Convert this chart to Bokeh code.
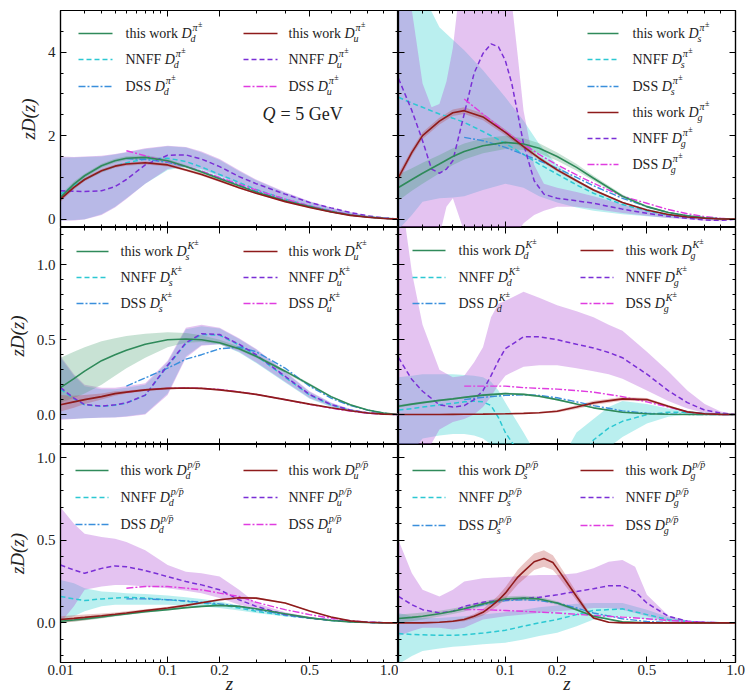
import numpy as np
from bokeh.plotting import figure
from bokeh.layouts import column, row
from bokeh.models import Range1d, FixedTicker, LinearAxis, Label, Arrow, NumeralTickFormatter
from bokeh.embed import file_html
from bokeh.resources import INLINE

SERIF = "Liberation Serif"

# ---------------------------------------------------------------- z nodes
z_grid = [0.01, 0.015, 0.02, 0.03, 0.04, 0.05, 0.07, 0.1, 0.13, 0.16,
          0.2, 0.25, 0.3, 0.4, 0.5, 0.6, 0.7, 0.8, 0.9, 1.0]
z_dss = [0.05, 0.07, 0.1, 0.13, 0.16, 0.2, 0.25, 0.3, 0.4, 0.5, 0.6, 0.7, 0.8, 0.9, 1.0]

# ---------------------------------------------------------------- pi+- : d, u
pi_tw_d = [0.52, 0.84, 1.04, 1.28, 1.40, 1.46, 1.48, 1.40, 1.26, 1.13, 0.97, 0.80, 0.65, 0.44, 0.30, 0.18, 0.10, 0.05, 0.02, 0.0]
pi_tw_d_lo = [0.45, 0.78, 0.99, 1.23, 1.35, 1.41, 1.43, 1.35, 1.22, 1.09, 0.94, 0.77, 0.63, 0.43, 0.29, 0.17, 0.095, 0.045, 0.015, 0.0]
pi_tw_d_hi = [0.59, 0.90, 1.09, 1.33, 1.45, 1.51, 1.53, 1.45, 1.30, 1.17, 1.00, 0.83, 0.67, 0.45, 0.31, 0.19, 0.105, 0.055, 0.025, 0.0]
pi_tw_u = [0.48, 0.76, 0.95, 1.16, 1.27, 1.32, 1.35, 1.30, 1.18, 1.07, 0.92, 0.75, 0.62, 0.42, 0.28, 0.17, 0.09, 0.045, 0.015, 0.0]
pi_tw_u_lo = [0.42, 0.71, 0.91, 1.12, 1.23, 1.28, 1.31, 1.26, 1.15, 1.04, 0.89, 0.73, 0.60, 0.41, 0.27, 0.16, 0.085, 0.04, 0.012, 0.0]
pi_tw_u_hi = [0.54, 0.81, 0.99, 1.20, 1.31, 1.36, 1.39, 1.34, 1.21, 1.10, 0.95, 0.77, 0.64, 0.43, 0.29, 0.18, 0.095, 0.05, 0.018, 0.0]
pi_nn_d = [0.60, 0.80, 0.95, 1.15, 1.27, 1.35, 1.44, 1.46, 1.38, 1.25, 1.07, 0.88, 0.71, 0.48, 0.32, 0.20, 0.11, 0.05, 0.02, 0.0]
pi_nn_d_lo = [-0.03, -0.02, 0.0, 0.12, 0.30, 0.50, 0.85, 1.18, 1.25, 1.18, 1.02, 0.84, 0.68, 0.46, 0.30, 0.19, 0.10, 0.045, 0.015, 0.0]
pi_nn_d_hi = [1.48, 1.48, 1.49, 1.50, 1.55, 1.60, 1.68, 1.75, 1.72, 1.60, 1.42, 1.15, 0.93, 0.63, 0.42, 0.27, 0.16, 0.08, 0.03, 0.0]
pi_nn_u = [0.68, 0.67, 0.66, 0.68, 0.78, 0.95, 1.30, 1.53, 1.54, 1.44, 1.26, 1.02, 0.85, 0.60, 0.40, 0.27, 0.16, 0.08, 0.03, 0.0]
pi_nn_u_lo = [-0.04, -0.03, -0.01, 0.10, 0.28, 0.48, 0.85, 1.20, 1.28, 1.20, 1.04, 0.85, 0.69, 0.47, 0.31, 0.20, 0.11, 0.05, 0.02, 0.0]
pi_nn_u_hi = [1.50, 1.49, 1.50, 1.52, 1.56, 1.61, 1.70, 1.76, 1.73, 1.62, 1.44, 1.17, 0.95, 0.65, 0.43, 0.28, 0.17, 0.085, 0.03, 0.0]
pi_dss_d = [1.45, 1.43, 1.36, 1.26, 1.14, 0.99, 0.82, 0.67, 0.45, 0.30, 0.18, 0.10, 0.05, 0.02, 0.0]
pi_dss_u = [1.64, 1.52, 1.38, 1.26, 1.15, 1.00, 0.84, 0.70, 0.48, 0.32, 0.20, 0.11, 0.05, 0.02, 0.0]

# ---------------------------------------------------------------- pi+- : s, g
pi_tw_s = [0.76, 0.95, 1.10, 1.32, 1.50, 1.62, 1.76, 1.84, 1.80, 1.70, 1.50, 1.24, 0.98, 0.55, 0.30, 0.16, 0.08, 0.035, 0.01, 0.0]
pi_tw_s_lo = [0.45, 0.68, 0.85, 1.10, 1.30, 1.43, 1.58, 1.68, 1.66, 1.58, 1.40, 1.16, 0.92, 0.51, 0.27, 0.14, 0.07, 0.03, 0.008, 0.0]
pi_tw_s_hi = [1.07, 1.22, 1.35, 1.54, 1.70, 1.81, 1.94, 2.00, 1.94, 1.82, 1.60, 1.32, 1.04, 0.59, 0.33, 0.18, 0.09, 0.04, 0.012, 0.0]
pi_tw_g = [1.0, 1.6, 2.0, 2.35, 2.55, 2.6, 2.45, 2.08, 1.74, 1.46, 1.18, 0.92, 0.70, 0.40, 0.22, 0.11, 0.05, 0.02, 0.005, 0.0]
pi_tw_g_lo = [0.9, 1.52, 1.92, 2.27, 2.47, 2.52, 2.37, 2.01, 1.68, 1.41, 1.14, 0.89, 0.67, 0.38, 0.21, 0.10, 0.045, 0.017, 0.004, 0.0]
pi_tw_g_hi = [1.1, 1.68, 2.08, 2.43, 2.63, 2.68, 2.53, 2.15, 1.80, 1.51, 1.22, 0.95, 0.73, 0.42, 0.23, 0.12, 0.055, 0.023, 0.006, 0.0]
pi_nn_s = [2.92, 2.78, 2.68, 2.52, 2.42, 2.32, 2.10, 1.82, 1.55, 1.32, 1.08, 0.82, 0.62, 0.35, 0.20, 0.10, 0.05, 0.02, 0.005, 0.0]
pi_nn_s_lo = [-0.25, 0.10, 0.42, 0.50, 0.52, 0.55, 0.70, 0.85, 0.75, 0.55, 0.40, 0.28, 0.20, 0.12, 0.07, 0.03, 0.015, 0.005, 0.0, 0.0]
pi_nn_s_hi = [6.5, 6.0, 5.4, 4.6, 4.3, 4.05, 3.57, 2.92, 2.36, 1.80, 1.30, 0.95, 0.72, 0.42, 0.25, 0.13, 0.07, 0.03, 0.01, 0.0]
z_pi_nn_g = [0.01, 0.015, 0.02, 0.025, 0.03, 0.035, 0.04, 0.05, 0.06, 0.07, 0.08, 0.09, 0.1, 0.11,
             0.12, 0.13, 0.15, 0.17, 0.2, 0.25, 0.3, 0.4, 0.5, 0.6, 0.7, 0.8, 0.9, 1.0]
pi_nn_g = [3.37, 2.6, 1.88, 1.2, 1.1, 1.2, 1.4, 2.52, 3.5, 3.97, 4.2, 4.13, 3.8, 3.25,
           2.52, 1.8, 0.92, 0.6, 0.5, 0.44, 0.38, 0.24, 0.14, 0.07, 0.02, -0.02, -0.03, 0.0]
pi_nn_g_lo = [-0.3, -0.5, -0.6, -0.5, -0.4, 0.3, 0.5, -0.3, -0.5, -0.5, -0.5, -0.5, -0.5, -0.5,
              -0.3, -0.1, 0.1, 0.2, 0.3, 0.3, 0.25, 0.15, 0.08, 0.03, 0.0, -0.04, -0.05, 0.0]
pi_nn_g_hi = [8.0, 5.0, 3.25, 2.68, 2.76, 3.3, 4.1, 6.5, 8.0, 9.0, 9.0, 9.0, 8.0, 5.2,
              3.9, 2.6, 1.3, 0.85, 0.75, 0.65, 0.55, 0.35, 0.2, 0.1, 0.04, 0.01, 0.0, 0.0]
pi_dss_s = [1.96, 1.88, 1.72, 1.55, 1.40, 1.22, 1.00, 0.80, 0.50, 0.30, 0.16, 0.08, 0.03, 0.01, 0.0]
pi_dss_g = [2.88, 2.52, 2.10, 1.80, 1.55, 1.30, 1.06, 0.86, 0.55, 0.38, 0.23, 0.13, 0.06, 0.02, 0.0]

# ---------------------------------------------------------------- K+- : s, u
K_tw_s = [0.18, 0.24, 0.29, 0.36, 0.40, 0.43, 0.47, 0.50, 0.505, 0.50, 0.48, 0.44, 0.39, 0.29, 0.20, 0.12, 0.065, 0.03, 0.01, 0.0]
K_tw_s_lo = [0.08, 0.11, 0.14, 0.20, 0.26, 0.31, 0.38, 0.45, 0.48, 0.485, 0.47, 0.43, 0.38, 0.28, 0.19, 0.115, 0.06, 0.027, 0.008, 0.0]
K_tw_s_hi = [0.38, 0.42, 0.45, 0.49, 0.51, 0.525, 0.54, 0.55, 0.545, 0.53, 0.50, 0.455, 0.40, 0.30, 0.21, 0.125, 0.07, 0.033, 0.012, 0.0]
K_tw_u = [0.065, 0.085, 0.10, 0.12, 0.14, 0.15, 0.165, 0.175, 0.178, 0.175, 0.165, 0.15, 0.135, 0.10, 0.07, 0.045, 0.025, 0.01, 0.003, 0.0]
K_tw_u_lo = [0.02, 0.045, 0.07, 0.10, 0.125, 0.14, 0.157, 0.168, 0.172, 0.17, 0.16, 0.146, 0.131, 0.097, 0.068, 0.043, 0.024, 0.009, 0.002, 0.0]
K_tw_u_hi = [0.13, 0.125, 0.13, 0.14, 0.155, 0.16, 0.173, 0.182, 0.184, 0.18, 0.17, 0.154, 0.139, 0.103, 0.072, 0.047, 0.026, 0.011, 0.004, 0.0]
K_nn_s = [0.17, 0.105, 0.065, 0.055, 0.063, 0.077, 0.128, 0.325, 0.475, 0.535, 0.53, 0.465, 0.395, 0.25, 0.13, 0.065, 0.029, 0.011, 0.004, 0.0]
K_nn_s_lo = [-0.03, -0.028, -0.024, -0.02, -0.018, -0.012, 0.005, 0.14, 0.39, 0.465, 0.47, 0.415, 0.345, 0.215, 0.105, 0.05, 0.022, 0.008, 0.002, 0.0]
K_nn_s_hi = [0.38, 0.26, 0.19, 0.17, 0.17, 0.18, 0.20, 0.35, 0.57, 0.59, 0.575, 0.505, 0.435, 0.285, 0.15, 0.078, 0.035, 0.014, 0.005, 0.0]
K_nn_u = [0.18, 0.11, 0.067, 0.056, 0.065, 0.078, 0.13, 0.33, 0.48, 0.54, 0.535, 0.47, 0.40, 0.256, 0.134, 0.067, 0.03, 0.012, 0.004, 0.0]
K_nn_u_lo = [-0.035, -0.03, -0.025, -0.022, -0.02, -0.015, 0.0, 0.13, 0.38, 0.46, 0.47, 0.42, 0.35, 0.22, 0.11, 0.055, 0.024, 0.009, 0.003, 0.0]
K_nn_u_hi = [0.39, 0.27, 0.20, 0.18, 0.18, 0.19, 0.21, 0.36, 0.58, 0.60, 0.58, 0.51, 0.44, 0.29, 0.155, 0.08, 0.037, 0.015, 0.005, 0.0]
K_dss_s = [0.19, 0.245, 0.31, 0.37, 0.40, 0.44, 0.45, 0.42, 0.31, 0.19, 0.11, 0.06, 0.03, 0.01, 0.0]
K_dss_u = [0.15, 0.165, 0.175, 0.178, 0.175, 0.168, 0.152, 0.135, 0.10, 0.068, 0.043, 0.023, 0.009, 0.002, 0.0]

# ---------------------------------------------------------------- K+- : d, g
K_tw_d = [0.056, 0.07, 0.08, 0.095, 0.105, 0.115, 0.13, 0.14, 0.135, 0.122, 0.10, 0.07, 0.045, 0.015, 0.005, 0.002, 0.0, 0.0, 0.0, 0.0]
K_tw_d_lo = [0.046, 0.062, 0.073, 0.089, 0.099, 0.109, 0.123, 0.133, 0.128, 0.115, 0.094, 0.065, 0.041, 0.012, 0.003, 0.001, 0.0, 0.0, 0.0, 0.0]
K_tw_d_hi = [0.066, 0.078, 0.087, 0.101, 0.111, 0.121, 0.137, 0.147, 0.142, 0.129, 0.106, 0.075, 0.049, 0.018, 0.007, 0.003, 0.0, 0.0, 0.0, 0.0]
K_tw_g = [0.0, 0.0, 0.0, 0.0, 0.001, 0.002, 0.003, 0.005, 0.008, 0.012, 0.022, 0.05, 0.078, 0.105, 0.10, 0.056, 0.018, 0.005, 0.001, 0.0]
K_tw_g_lo = [-0.002, -0.002, -0.002, -0.002, -0.001, 0.0, 0.001, 0.002, 0.004, 0.007, 0.014, 0.038, 0.064, 0.092, 0.089, 0.048, 0.013, 0.003, 0.0, 0.0]
K_tw_g_hi = [0.002, 0.002, 0.002, 0.002, 0.003, 0.004, 0.005, 0.008, 0.012, 0.017, 0.03, 0.062, 0.092, 0.118, 0.111, 0.064, 0.023, 0.007, 0.002, 0.0]
z_K_nn = [0.01, 0.015, 0.02, 0.03, 0.04, 0.05, 0.06, 0.07, 0.08, 0.09, 0.1, 0.13,
          0.16, 0.2, 0.25, 0.3, 0.35, 0.4, 0.5, 0.6, 0.7, 0.8, 0.9, 1.0]
K_nn_d = [0.03, 0.04, 0.05, 0.065, 0.075, 0.085, 0.09, 0.085, 0.06, -0.02, -0.12, -0.30,
          -0.45, -0.50, -0.35, -0.17, -0.09, -0.045, 0.0, 0.015, 0.015, 0.008, 0.003, 0.0]
K_nn_d_lo = [-0.5, -0.25, -0.16, -0.14, -0.13, -0.13, -0.14, -0.16, -0.2, -0.27, -0.35, -0.55,
             -0.7, -0.75, -0.6, -0.35, -0.22, -0.15, -0.06, -0.015, 0.0, 0.0, 0.0, 0.0]
K_nn_d_hi = [0.25, 0.26, 0.27, 0.27, 0.27, 0.265, 0.26, 0.25, 0.22, 0.16, 0.08, -0.12,
             -0.3, -0.35, -0.12, -0.03, 0.05, 0.09, 0.07, 0.04, 0.025, 0.012, 0.004, 0.0]
K_nn_g = [0.38, 0.234, 0.156, 0.065, 0.05, 0.06, 0.10, 0.16, 0.26, 0.36, 0.44, 0.52,
          0.52, 0.50, 0.47, 0.445, 0.415, 0.38, 0.27, 0.16, 0.08, 0.03, 0.01, 0.0]
K_nn_g_lo = [-0.5, -0.4, -0.3, -0.1, -0.05, -0.03, 0.0, 0.05, 0.12, 0.2, 0.26, 0.32,
             0.33, 0.33, 0.31, 0.29, 0.27, 0.24, 0.16, 0.09, 0.04, 0.01, 0.003, 0.0]
K_nn_g_hi = [1.6, 0.95, 0.6, 0.3, 0.25, 0.26, 0.35, 0.45, 0.65, 0.74, 0.76, 0.82,
             0.78, 0.73, 0.69, 0.65, 0.6, 0.56, 0.42, 0.29, 0.16, 0.07, 0.02, 0.0]
K_dss_d = [0.10, 0.115, 0.128, 0.132, 0.128, 0.112, 0.085, 0.06, 0.025, 0.009, 0.003, 0.001, 0.0, 0.0, 0.0]
K_dss_g = [0.19, 0.19, 0.19, 0.18, 0.175, 0.17, 0.16, 0.15, 0.12, 0.085, 0.05, 0.018, 0.005, 0.001, 0.0]

# ---------------------------------------------------------------- p/pbar : d, u
p_tw_d = [0.01, 0.017, 0.024, 0.036, 0.046, 0.054, 0.067, 0.08, 0.092, 0.10, 0.106, 0.10, 0.085, 0.055, 0.03, 0.014, 0.006, 0.002, 0.0, 0.0]
p_tw_d_lo = [0.0, 0.006, 0.014, 0.027, 0.038, 0.047, 0.061, 0.075, 0.087, 0.096, 0.102, 0.096, 0.082, 0.052, 0.028, 0.013, 0.005, 0.001, 0.0, 0.0]
p_tw_d_hi = [0.025, 0.03, 0.035, 0.045, 0.054, 0.061, 0.073, 0.085, 0.097, 0.104, 0.11, 0.104, 0.088, 0.058, 0.032, 0.015, 0.007, 0.003, 0.001, 0.0]
p_tw_u = [0.02, 0.027, 0.033, 0.043, 0.052, 0.06, 0.074, 0.09, 0.106, 0.122, 0.14, 0.152, 0.15, 0.12, 0.072, 0.035, 0.012, 0.004, 0.001, 0.0]
p_tw_u_lo = [0.0, 0.008, 0.016, 0.03, 0.041, 0.05, 0.066, 0.083, 0.10, 0.116, 0.134, 0.146, 0.145, 0.116, 0.069, 0.033, 0.011, 0.003, 0.0, 0.0]
p_tw_u_hi = [0.04, 0.046, 0.05, 0.056, 0.063, 0.07, 0.082, 0.097, 0.112, 0.128, 0.146, 0.158, 0.156, 0.124, 0.075, 0.037, 0.013, 0.005, 0.002, 0.0]
p_nn_d = [0.16, 0.145, 0.135, 0.145, 0.15, 0.155, 0.15, 0.14, 0.13, 0.12, 0.11, 0.09, 0.07, 0.045, 0.028, 0.015, 0.008, 0.003, 0.001, 0.0]
p_nn_d_lo = [0.02, 0.04, 0.07, 0.10, 0.11, 0.11, 0.11, 0.11, 0.105, 0.10, 0.09, 0.075, 0.06, 0.038, 0.024, 0.013, 0.007, 0.003, 0.001, 0.0]
p_nn_d_hi = [0.26, 0.24, 0.21, 0.19, 0.185, 0.18, 0.175, 0.165, 0.155, 0.145, 0.13, 0.105, 0.08, 0.052, 0.032, 0.017, 0.009, 0.004, 0.001, 0.0]
p_nn_u = [0.35, 0.32, 0.30, 0.33, 0.345, 0.34, 0.317, 0.28, 0.25, 0.23, 0.20, 0.14, 0.10, 0.05, 0.03, 0.016, 0.008, 0.003, 0.001, 0.0]
p_nn_u_lo = [0.0, 0.10, 0.20, 0.22, 0.23, 0.23, 0.22, 0.21, 0.195, 0.18, 0.15, 0.11, 0.085, 0.045, 0.025, 0.013, 0.006, 0.002, 0.0, 0.0]
p_nn_u_hi = [0.70, 0.60, 0.54, 0.52, 0.51, 0.49, 0.44, 0.35, 0.31, 0.30, 0.28, 0.20, 0.12, 0.065, 0.037, 0.02, 0.01, 0.004, 0.001, 0.0]
p_dss_d = [0.145, 0.145, 0.14, 0.133, 0.125, 0.115, 0.10, 0.08, 0.05, 0.03, 0.016, 0.008, 0.003, 0.001, 0.0]
p_dss_u = [0.21, 0.22, 0.22, 0.21, 0.20, 0.18, 0.16, 0.125, 0.08, 0.05, 0.028, 0.013, 0.005, 0.001, 0.0]

# ---------------------------------------------------------------- p/pbar : s, g
p_tw_s = [0.026, 0.033, 0.04, 0.055, 0.07, 0.085, 0.115, 0.145, 0.15, 0.145, 0.12, 0.08, 0.04, 0.006, 0.001, 0.0, 0.0, 0.0, 0.0, 0.0]
p_tw_s_lo = [0.0, 0.01, 0.02, 0.038, 0.054, 0.069, 0.10, 0.13, 0.136, 0.132, 0.109, 0.072, 0.035, 0.004, 0.0, 0.0, 0.0, 0.0, 0.0, 0.0]
p_tw_s_hi = [0.05, 0.056, 0.062, 0.074, 0.087, 0.101, 0.13, 0.16, 0.164, 0.158, 0.131, 0.088, 0.045, 0.008, 0.002, 0.0, 0.0, 0.0, 0.0, 0.0]
z_p_tw_g = [0.01, 0.02, 0.03, 0.04, 0.05, 0.06, 0.07, 0.08, 0.09, 0.1, 0.11, 0.12, 0.13, 0.15,
            0.17, 0.19, 0.2, 0.22, 0.25, 0.28, 0.3, 0.35, 0.4, 0.5, 0.6, 0.8, 1.0]
p_tw_g = [0.0, 0.0, 0.004, 0.01, 0.02, 0.04, 0.064, 0.10, 0.137, 0.18, 0.23, 0.277, 0.31, 0.37,
          0.39, 0.365, 0.33, 0.26, 0.16, 0.07, 0.03, 0.004, 0.0, 0.0, 0.0, 0.0, 0.0]
p_tw_g_lo = [0.0, -0.002, 0.001, 0.004, 0.01, 0.026, 0.044, 0.075, 0.107, 0.145, 0.19, 0.232, 0.262, 0.32,
             0.34, 0.32, 0.29, 0.225, 0.135, 0.055, 0.022, 0.001, 0.0, 0.0, 0.0, 0.0, 0.0]
p_tw_g_hi = [0.0, 0.002, 0.007, 0.016, 0.03, 0.054, 0.084, 0.125, 0.167, 0.215, 0.27, 0.322, 0.358, 0.42,
             0.44, 0.41, 0.37, 0.295, 0.185, 0.085, 0.038, 0.007, 0.0, 0.0, 0.0, 0.0, 0.0]
p_nn_s = [-0.065, -0.07, -0.072, -0.075, -0.075, -0.072, -0.062, -0.045, -0.02, 0.0, 0.02, 0.05, 0.075, 0.085, 0.05, 0.02, 0.008, 0.003, 0.001, 0.0]
p_nn_s_lo = [-0.25, -0.2, -0.17, -0.155, -0.145, -0.14, -0.13, -0.12, -0.10, -0.08, -0.06, -0.02, 0.02, 0.04, 0.02, 0.006, 0.002, 0.0, 0.0, 0.0]
p_nn_s_hi = [0.06, 0.04, 0.03, 0.03, 0.035, 0.04, 0.05, 0.065, 0.08, 0.095, 0.105, 0.115, 0.12, 0.12, 0.08, 0.035, 0.015, 0.006, 0.002, 0.0]
z_p_nn_g = [0.01, 0.015, 0.02, 0.03, 0.04, 0.05, 0.07, 0.1, 0.13, 0.16, 0.2,
            0.25, 0.3, 0.35, 0.4, 0.45, 0.5, 0.6, 0.7, 0.8, 0.9, 1.0]
p_nn_g = [0.16, 0.11, 0.08, 0.06, 0.07, 0.10, 0.125, 0.14, 0.149, 0.155, 0.17,
          0.19, 0.207, 0.225, 0.225, 0.19, 0.12, 0.04, 0.01, 0.003, 0.001, 0.0]
p_nn_g_lo = [-0.08, -0.05, -0.03, -0.03, -0.04, -0.03, 0.02, 0.04, 0.05, 0.06, 0.07,
             0.08, 0.09, 0.09, 0.08, 0.06, 0.04, 0.01, 0.003, 0.001, 0.0, 0.0]
p_nn_g_hi = [0.5, 0.3, 0.2, 0.16, 0.2, 0.25, 0.27, 0.277, 0.285, 0.29, 0.29,
             0.30, 0.33, 0.37, 0.38, 0.34, 0.17, 0.045, 0.015, 0.005, 0.001, 0.0]
p_dss_s = [0.085, 0.11, 0.135, 0.14, 0.135, 0.12, 0.09, 0.06, 0.025, 0.008, 0.002, 0.0, 0.0, 0.0, 0.0]
p_dss_g = [0.08, 0.08, 0.075, 0.07, 0.065, 0.06, 0.052, 0.045, 0.035, 0.025, 0.015, 0.008, 0.003, 0.001, 0.0]

# ---------------------------------------------------------------- axes
x_major = [0.01, 0.1, 0.2, 0.5, 1.0]
x_major_labels = ["0.01", "0.1", "0.2", "0.5", "1.0"]
x_minor = [0.02, 0.03, 0.04, 0.05, 0.06, 0.07, 0.08, 0.09, 0.3, 0.4, 0.6, 0.7, 0.8, 0.9]
row_ylim = [(-0.2, 5.0), (-0.2, 1.25), (-0.24, 1.08)]
row_ymajor = [[0, 2, 4], [0.0, 0.5, 1.0], [0.0, 0.5, 1.0]]
row_yminor = [[0.5, 1.0, 1.5, 2.5, 3.0, 3.5, 4.5],
              [-0.1, 0.1, 0.2, 0.3, 0.4, 0.6, 0.7, 0.8, 0.9, 1.1, 1.2],
              [-0.2, -0.1, 0.1, 0.2, 0.3, 0.4, 0.6, 0.7, 0.8, 0.9]]
row_yformat = ["0", "0.0", "0.0"]

# colours: first flavour / second flavour
C_TW = ["#2f8a5a", "#8e1b1b"]
C_NN = ["#2cc8d2", "#7a2fd6"]
C_DSS = ["#3a8fdc", "#e03ce0"]
B_TW = ["#4aa070", "#b84040"]
B_NN = ["#3fd3d3", "#b45ad9"]

DASH_NN = "5 3"
DASH_DSS = "7 2 2 2"

# panel contents: hadron superscript (+ second-level superscript), flavours, series per flavour
panels = [
    [dict(sup=("π", "±"), flav=("d", "u"),
          tw=[(z_grid, pi_tw_d, pi_tw_d_lo, pi_tw_d_hi), (z_grid, pi_tw_u, pi_tw_u_lo, pi_tw_u_hi)],
          nn=[(z_grid, pi_nn_d, pi_nn_d_lo, pi_nn_d_hi), (z_grid, pi_nn_u, pi_nn_u_lo, pi_nn_u_hi)],
          dss=[(z_dss, pi_dss_d), (z_dss, pi_dss_u)]),
     dict(sup=("π", "±"), flav=("s", "g"),
          tw=[(z_grid, pi_tw_s, pi_tw_s_lo, pi_tw_s_hi), (z_grid, pi_tw_g, pi_tw_g_lo, pi_tw_g_hi)],
          nn=[(z_grid, pi_nn_s, pi_nn_s_lo, pi_nn_s_hi), (z_pi_nn_g, pi_nn_g, pi_nn_g_lo, pi_nn_g_hi)],
          dss=[(z_dss, pi_dss_s), (z_dss, pi_dss_g)])],
    [dict(sup=("K", "±"), flav=("s", "u"),
          tw=[(z_grid, K_tw_s, K_tw_s_lo, K_tw_s_hi), (z_grid, K_tw_u, K_tw_u_lo, K_tw_u_hi)],
          nn=[(z_grid, K_nn_s, K_nn_s_lo, K_nn_s_hi), (z_grid, K_nn_u, K_nn_u_lo, K_nn_u_hi)],
          dss=[(z_dss, K_dss_s), (z_dss, K_dss_u)]),
     dict(sup=("K", "±"), flav=("d", "g"),
          tw=[(z_grid, K_tw_d, K_tw_d_lo, K_tw_d_hi), (z_grid, K_tw_g, K_tw_g_lo, K_tw_g_hi)],
          nn=[(z_K_nn, K_nn_d, K_nn_d_lo, K_nn_d_hi), (z_K_nn, K_nn_g, K_nn_g_lo, K_nn_g_hi)],
          dss=[(z_dss, K_dss_d), (z_dss, K_dss_g)])],
    [dict(sup=("p/p̄", ""), flav=("d", "u"),
          tw=[(z_grid, p_tw_d, p_tw_d_lo, p_tw_d_hi), (z_grid, p_tw_u, p_tw_u_lo, p_tw_u_hi)],
          nn=[(z_grid, p_nn_d, p_nn_d_lo, p_nn_d_hi), (z_grid, p_nn_u, p_nn_u_lo, p_nn_u_hi)],
          dss=[(z_dss, p_dss_d), (z_dss, p_dss_u)]),
     dict(sup=("p/p̄", ""), flav=("s", "g"),
          tw=[(z_grid, p_tw_s, p_tw_s_lo, p_tw_s_hi), (z_p_tw_g, p_tw_g, p_tw_g_lo, p_tw_g_hi)],
          nn=[(z_grid, p_nn_s, p_nn_s_lo, p_nn_s_hi), (z_p_nn_g, p_nn_g, p_nn_g_lo, p_nn_g_hi)],
          dss=[(z_dss, p_dss_s), (z_dss, p_dss_g)])],
]

# legend geometry in frame pixels: columns (line start, line end, text x), rows from frame top
legend_geom = [
    [dict(cols=[(18, 52, 65), (183, 217, 228)], rows=[23, 49, 76]),
     dict(cols=[(189, 220, 234)], rows=[23, 49, 76, 102, 128, 154])],
    [dict(cols=[(16, 48, 60), (183, 217, 228)], rows=[24, 50, 76]),
     dict(cols=[(14, 47, 60), (182, 215, 227)], rows=[23, 50, 76])],
    [dict(cols=[(15, 48, 60), (183, 217, 228)], rows=[26, 53, 80]),
     dict(cols=[(14, 47, 60), (182, 215, 227)], rows=[26, 53, 81])],
]

FRAME_W = [338, 337]
FRAME_H = [217, 217, 218]
BORDER_L = [60, 0]
BORDER_R = [0, 10]
BORDER_T = [10, 0, 0]
BORDER_B = [0, 0, 36]

LEG_FS = 14          # legend font size (px)
PREFIX_EM = {"this work": 4.0, "NNFF": 2.806, "DSS": 2.084}   # width incl. trailing space, in em
SUP_EM = {"π": 0.55, "K": 0.67, "p/p̄": 1.28}


def cbrt(v):
    return [float(t) for t in np.cbrt(np.asarray(v, dtype=float))]


def style_axis(ax, show_labels):
    ax.major_tick_in = 6
    ax.major_tick_out = 0
    ax.minor_tick_in = 3
    ax.minor_tick_out = 0
    ax.axis_line_color = "black"
    ax.axis_line_width = 1.2
    ax.major_tick_line_color = "black"
    ax.minor_tick_line_color = "black"
    ax.major_label_text_font = SERIF
    if show_labels:
        ax.major_label_text_font_size = "15px"
        ax.major_label_text_color = "#222222"
        ax.major_label_standoff = 5
    else:
        # tick marks only: labels take no room and are not painted
        ax.major_label_text_font_size = "0px"
        ax.major_label_text_color = None
        ax.major_label_standoff = 0


def text(p, x, y, s, size, italic=False, baseline="middle", align="left"):
    p.add_layout(Label(x=x, y=y, x_units="screen", y_units="screen", text=s,
                       text_font=SERIF, text_font_size=f"{size}px",
                       text_font_style="italic" if italic else "normal",
                       text_baseline=baseline, text_align=align, text_color="#222222"))


def legend_entry(p, fh, geom_col, top, color, dash, prefix, flav, sup):
    x0, x1, xt = geom_col
    y = fh - top
    p.add_layout(Arrow(start=None, end=None, x_start=x0, y_start=y, x_end=x1, y_end=y,
                       start_units="screen", end_units="screen",
                       line_color=color, line_width=1.5, line_dash=dash))
    text(p, xt, y, prefix, LEG_FS)
    xd = xt + PREFIX_EM[prefix] * LEG_FS
    text(p, xd, y, "D", LEG_FS, italic=True)
    xs = xd + 0.72 * LEG_FS
    text(p, xs - 1, y - 5, flav, 10, italic=True)
    text(p, xs + 1, y + 6, sup[0], 10, italic=True)
    if sup[1]:
        text(p, xs + 1 + SUP_EM[sup[0]] * 10, y + 9, sup[1], 8)


def make_panel(r, c):
    spec = panels[r][c]
    fw, fh = FRAME_W[c], FRAME_H[r]
    p = figure(width=BORDER_L[c] + fw + BORDER_R[c], height=BORDER_T[r] + fh + BORDER_B[r],
               output_backend="svg", toolbar_location=None,
               x_range=Range1d(cbrt([0.01])[0], 1.0), y_range=Range1d(*row_ylim[r]),
               x_axis_location=None, y_axis_location=None,
               min_border_left=BORDER_L[c], min_border_right=BORDER_R[c],
               min_border_top=BORDER_T[r], min_border_bottom=BORDER_B[r])
    p.grid.visible = False
    p.outline_line_color = "black"
    p.outline_line_width = 1.2
    p.background_fill_color = "white"
    p.border_fill_color = "white"

    # x axes on a cube-root z scale; the right column leaves its 0.01 tick
    # (which sits on the shared frame edge) to the left panel's "1.0"
    majors = x_major if c == 0 else x_major[1:]
    labels = x_major_labels if c == 0 else x_major_labels[1:]
    xt, xm = cbrt(majors), cbrt(x_minor)
    for side in ("below", "above"):
        ax = LinearAxis(ticker=FixedTicker(ticks=xt, minor_ticks=xm))
        show = side == "below" and r == 2
        style_axis(ax, show)
        if show:
            ax.major_label_overrides = {t: s for t, s in zip(xt, labels)}
            ax.major_label_standoff = 2
            ax.axis_label = "z"
            ax.axis_label_text_font = SERIF
            ax.axis_label_text_font_size = "19px"
            ax.axis_label_text_font_style = "italic"
            ax.axis_label_text_color = "#222222"
            ax.axis_label_standoff = -5
        p.add_layout(ax, side)
    for side in ("left", "right"):
        ax = LinearAxis(ticker=FixedTicker(ticks=row_ymajor[r], minor_ticks=row_yminor[r]))
        show = side == "left" and c == 0
        style_axis(ax, show)
        if show:
            ax.formatter = NumeralTickFormatter(format=row_yformat[r])
            ax.axis_label = "zD(z)"
            ax.axis_label_text_font = SERIF
            ax.axis_label_text_font_size = "19px"
            ax.axis_label_text_font_style = "italic"
            ax.axis_label_text_color = "#222222"
            ax.axis_label_standoff = 6
        p.add_layout(ax, side)

    # uncertainty bands
    for k in (0, 1):
        z, v, lo, hi = spec["nn"][k]
        p.varea(x=cbrt(z), y1=lo, y2=hi, fill_color=B_NN[k], fill_alpha=0.36)
    for k in (0, 1):
        z, v, lo, hi = spec["tw"][k]
        p.varea(x=cbrt(z), y1=lo, y2=hi, fill_color=B_TW[k], fill_alpha=0.3)
    # central curves
    for k in (0, 1):
        z, v, lo, hi = spec["nn"][k]
        p.line(cbrt(z), v, line_color=C_NN[k], line_width=1.5, line_dash=DASH_NN)
        z, v = spec["dss"][k]
        p.line(cbrt(z), v, line_color=C_DSS[k], line_width=1.4, line_dash=DASH_DSS)
    for k in (0, 1):
        z, v, lo, hi = spec["tw"][k]
        p.line(cbrt(z), v, line_color=C_TW[k], line_width=1.6)

    # legend
    g = legend_geom[r][c]
    entries = [("this work", C_TW, "solid"), ("NNFF", C_NN, DASH_NN), ("DSS", C_DSS, DASH_DSS)]
    for k in (0, 1):
        for e, (prefix, cols, dash) in enumerate(entries):
            if len(g["cols"]) == 1:
                gc, top = g["cols"][0], g["rows"][3 * k + e]
            else:
                gc, top = g["cols"][k], g["rows"][e]
            legend_entry(p, fh, gc, top, cols[k], dash, prefix, spec["flav"][k], spec["sup"])

    if r == 0 and c == 0:
        text(p, 202, fh - 103, "Q", 18, italic=True)
        text(p, 220, fh - 103, "= 5 GeV", 18)
    return p


grid = column(*[row(make_panel(r, 0), make_panel(r, 1)) for r in range(3)])
open("out.html", "w").write(file_html(grid, INLINE, title="zD(z) fragmentation functions"))
